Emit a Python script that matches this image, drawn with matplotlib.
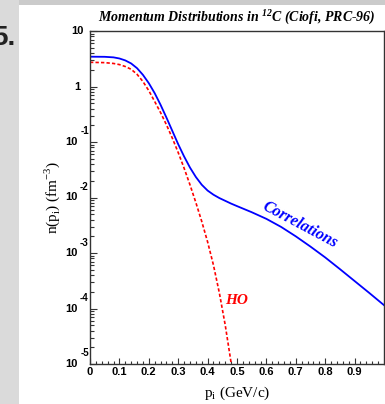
import matplotlib
matplotlib.use("Agg")
import matplotlib.pyplot as plt
import numpy as np
from matplotlib.patches import Rectangle
from matplotlib.ticker import FixedLocator, FixedFormatter, LogLocator, NullFormatter

# momentum (GeV/c) and log10 n(p)
p_corr = [0.0, 0.05, 0.08, 0.10, 0.12, 0.14, 0.16, 0.18, 0.20, 0.22, 0.24, 0.26,
          0.28, 0.30, 0.32, 0.34, 0.36, 0.38, 0.40, 0.42, 0.44, 0.46, 0.48, 0.50,
          0.55, 0.60, 0.65, 0.70, 0.75, 0.80, 0.85, 0.90, 0.95, 1.0]
logn_corr = [0.537, 0.535, 0.525, 0.505, 0.47, 0.415, 0.33, 0.21, 0.06, -0.12,
             -0.33, -0.56, -0.80, -1.04, -1.26, -1.46, -1.63, -1.77, -1.875,
             -1.95, -2.01, -2.06, -2.11, -2.155, -2.265, -2.385, -2.53, -2.70,
             -2.885, -3.08, -3.29, -3.505, -3.72, -3.94]

p_ho = [0.0, 0.05, 0.08, 0.10, 0.12, 0.14, 0.16, 0.18, 0.20, 0.22, 0.24, 0.26,
        0.28, 0.30, 0.32, 0.34, 0.36, 0.38, 0.40, 0.42, 0.44, 0.46, 0.48, 0.50]
logn_ho = [0.436, 0.430, 0.415, 0.395, 0.36, 0.31, 0.22, 0.09, -0.075, -0.27,
           -0.47, -0.69, -0.93, -1.19, -1.47, -1.77, -2.09, -2.43, -2.80, -3.22,
           -3.72, -4.30, -4.98, -5.70]

xticks = [0.0, 0.1, 0.2, 0.3, 0.4, 0.5, 0.6, 0.7, 0.8, 0.9]
xticklabels = ["0", "0.1", "0.2", "0.3", "0.4", "0.5", "0.6", "0.7", "0.8", "0.9"]
yticks = [1e-5, 1e-4, 1e-3, 1e-2, 1e-1, 1, 10]
ybase = ["10", "10", "10", "10", "10", "1", "10"]
yexp = ["-5", "-4", "-3", "-2", "-1", "", ""]

fig = plt.figure(figsize=(3.85, 4.04), dpi=100, facecolor="#cbcbcb")
fig.patches.append(Rectangle((0, 0), 19 / 385, 1, transform=fig.transFigure,
                             facecolor="#dadada", edgecolor="none", zorder=-10))
fig.patches.append(Rectangle((19 / 385, 0), 1, 399 / 404, transform=fig.transFigure,
                             facecolor="white", edgecolor="none", zorder=-10))
fig.text(15 / 385, 1 - 45 / 404, "5.", ha="right", va="baseline",
         fontsize=20, fontweight="bold", family="Liberation Sans", color="#222222")

ax = fig.add_axes([90 / 385, 40 / 404, 294 / 385, 333 / 404])
ax.set_facecolor("white")

ax.plot(p_corr, 10 ** np.array(logn_corr), color="#0000ff", lw=1.3)
ax.plot(p_ho, 10 ** np.array(logn_ho), color="#ff0000", lw=1.2,
        linestyle=(0, (2, 1.3)))

ax.set_yscale("log")
ax.set_xlim(0, 1)
ax.set_ylim(1e-5, 10)

ax.xaxis.set_major_locator(FixedLocator(xticks))
ax.xaxis.set_major_formatter(FixedFormatter(xticklabels))
ax.set_xticks(np.arange(0, 1.0, 0.02), minor=True)
ax.yaxis.set_major_locator(FixedLocator(yticks))
ax.yaxis.set_major_formatter(NullFormatter())
ax.yaxis.set_minor_locator(LogLocator(base=10, subs=np.arange(2, 10)))
ax.yaxis.set_minor_formatter(NullFormatter())

ax.tick_params(which="both", direction="in", top=False, right=False,
               labelsize=8, width=0.8, color="#333333")
ax.tick_params(axis="y", which="major", length=5)
ax.tick_params(axis="y", which="minor", length=3)
ax.tick_params(axis="x", which="major", length=4.5)
ax.tick_params(axis="x", which="minor", length=2.5)
ax.tick_params(axis="x", pad=2)
for lab in ax.get_xticklabels():
    lab.set_family("Liberation Sans")
    lab.set_fontweight("bold")
for s in ax.spines.values():
    s.set_linewidth(1.0)
    s.set_color("#333333")

# ROOT style decade labels: "10" with a raised exponent
ytrans = ax.get_yaxis_transform()
for v, b, e in zip(yticks, ybase, yexp):
    off = -19 if e else -13
    ax.annotate(b, xy=(0, v), xycoords=ytrans, xytext=(off, 0),
                textcoords="offset pixels", ha="center", va="center",
                fontsize=8, fontweight="bold", family="Liberation Sans",
                annotation_clip=False)
    if e:
        ax.annotate(e, xy=(0, v), xycoords=ytrans, xytext=(-5.5, 10.5),
                    textcoords="offset pixels", ha="center", va="center",
                    fontsize=7, fontweight="bold", family="Liberation Sans",
                    annotation_clip=False)

ax.set_xlabel(r"p$_{\mathregular{i}}$ (GeV/c)", family="Liberation Serif",
              fontsize=11, labelpad=6)
ax.set_ylabel(r"n(p$_{\mathregular{i}}$) (fm$^{\mathregular{-3}}$)",
              family="Liberation Serif", fontsize=11)
ax.yaxis.set_label_coords(-28 / 294, 0.5)
ax.set_title(r"Momentum Distributions in $^{\mathregular{12}}$C (Ciofi, PRC-96)",
             family="Liberation Serif", fontstyle="italic", fontweight="bold",
             fontsize=10, pad=7)

ax.text(0.714, 10 ** -2.50, "Correlations", color="#0000ff", rotation=-28,
        family="Liberation Serif", fontstyle="italic", fontweight="bold",
        fontsize=11.5, ha="center", va="center", rotation_mode="anchor")
ax.text(0.46, 10 ** -3.85, "HO", color="#ff0000",
        family="Liberation Serif", fontstyle="italic", fontweight="bold",
        fontsize=11, ha="left", va="center")

fig.savefig("out.png", dpi=100, facecolor=fig.get_facecolor())
